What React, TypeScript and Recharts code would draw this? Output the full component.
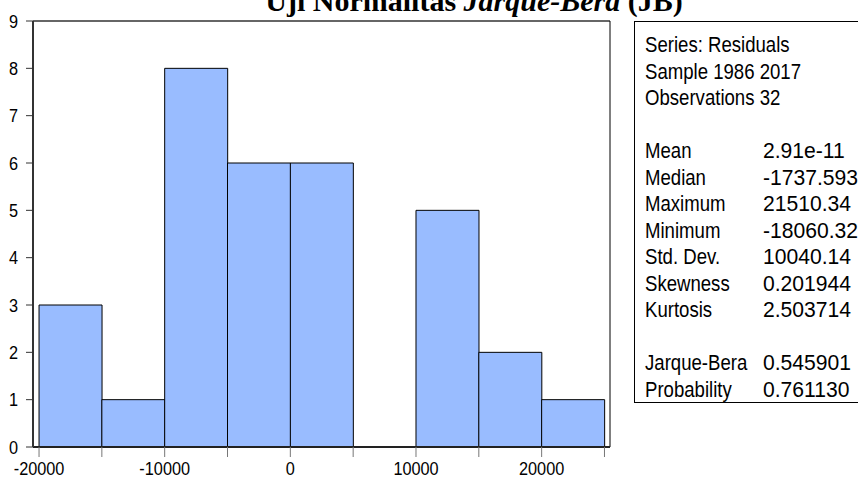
import { Bar, ComposedChart, ReferenceLine, XAxis, YAxis } from "recharts";

const BIN_CENTERS = [-17500, -12500, -7500, -2500, 2500, 7500, 12500, 17500, 22500];
const BIN_COUNTS = [3, 1, 8, 6, 6, 0, 5, 2, 1];
const X_TICKS = [-20000, -15000, -10000, -5000, 0, 5000, 10000, 15000, 20000, 25000];
const X_LABELED = [-20000, -10000, 0, 10000, 20000];
const Y_TICKS = [0, 1, 2, 3, 4, 5, 6, 7, 8, 9];
const X_DOMAIN: [number, number] = [-20480, 25440];
const Y_DOMAIN: [number, number] = [0, 9];

const HEADER_LINES = ["Series: Residuals", "Sample 1986 2017", "Observations 32"];
const STAT_LABELS = ["Mean", "Median", "Maximum", "Minimum", "Std. Dev.", "Skewness", "Kurtosis"];
const STAT_VALUES = ["2.91e-11", "-1737.593", "21510.34", "-18060.32", "10040.14", "0.201944", "2.503714"];
const TEST_LABELS = ["Jarque-Bera", "Probability"];
const TEST_VALUES = ["0.545901", "0.761130"];

const SANS = "'Liberation Sans', Arial, sans-serif";
const SERIF = "'Liberation Serif', 'Times New Roman', serif";
const BAR_FILL = "#99bcff";

const data = BIN_CENTERS.map((mid, i) => ({ mid, count: BIN_COUNTS[i] }));

function XTick(props: any) {
  const { x, y, payload } = props;
  if (!X_LABELED.includes(payload.value)) return null;
  return (
    <text
      transform={`translate(${x},${y + 16}) scale(0.88,1)`}
      textAnchor="middle"
      fontSize={18.5}
      fontFamily={SANS}
      fill="#000"
    >
      {payload.value}
    </text>
  );
}

function YTick(props: any) {
  const { x, y, payload } = props;
  return (
    <text
      transform={`translate(${x - 6},${y + 6.5}) scale(0.88,1)`}
      textAnchor="end"
      fontSize={18.5}
      fontFamily={SANS}
      fill="#000"
    >
      {payload.value}
    </text>
  );
}

// one line of the statistics box; k is the row number counted from the top
function StatLine({ k, label, value }: { k: number; label: string; value?: string }) {
  const base = 52 + 26.5 * k;
  return (
    <g>
      <text transform={`translate(645,${base}) scale(0.845,1)`} fontSize={22} fontFamily={SANS}>
        {label}
      </text>
      {value && (
        <text transform={`translate(763,${base}) scale(0.96,1)`} fontSize={22} fontFamily={SANS}>
          {value}
        </text>
      )}
    </g>
  );
}

export default function App() {
  return (
    <div
      style={{
        position: "absolute",
        left: 0,
        top: 0,
        width: 858,
        height: 477,
        overflow: "hidden",
        background: "#fff",
      }}
    >
      <ComposedChart
        width={858}
        height={477}
        data={data}
        margin={{ top: 21, right: 248, bottom: 0, left: 0 }}
        barCategoryGap={0}
        barGap={0}
      >
        <XAxis
          xAxisId="x"
          dataKey="mid"
          type="number"
          domain={X_DOMAIN}
          ticks={X_TICKS}
          interval={0}
          allowDataOverflow
          height={30}
          tickSize={10}
          tickLine={{ stroke: "#777" }}
          axisLine={{ stroke: "#222", strokeWidth: 2 }}
          tick={<XTick />}
        />
        <YAxis
          yAxisId="y"
          type="number"
          domain={Y_DOMAIN}
          ticks={Y_TICKS}
          interval={0}
          allowDataOverflow
          width={33}
          tickSize={7}
          tickLine={{ stroke: "#333" }}
          axisLine={{ stroke: "#333", strokeWidth: 2 }}
          tick={<YTick />}
        />
        <Bar
          xAxisId="x"
          yAxisId="y"
          dataKey="count"
          fill={BAR_FILL}
          stroke="#000"
          strokeWidth={1}
          isAnimationActive={false}
        />
        <ReferenceLine xAxisId="x" yAxisId="y" y={Y_DOMAIN[1]} stroke="#333" strokeWidth={1.5} />
        <ReferenceLine xAxisId="x" yAxisId="y" x={X_DOMAIN[1]} stroke="#000" />
      </ComposedChart>

      <svg
        width={858}
        height={477}
        style={{ position: "absolute", left: 0, top: 0, pointerEvents: "none" }}
      >
        <text
          x={474}
          y={11}
          textAnchor="middle"
          fontSize={30}
          fontWeight="bold"
          fontFamily={SERIF}
          style={{ whiteSpace: "pre" }}
        >
          <tspan>Uji Normalitas </tspan>
          <tspan fontStyle="italic">Jarque-Bera</tspan>
          <tspan> (JB)</tspan>
        </text>

        <rect x={634.5} y={21.5} width={300} height={381} fill="none" stroke="#000" />
        {HEADER_LINES.map((line, i) => (
          <StatLine key={line} k={i} label={line} />
        ))}
        {STAT_LABELS.map((label, i) => (
          <StatLine key={label} k={4 + i} label={label} value={STAT_VALUES[i]} />
        ))}
        {TEST_LABELS.map((label, i) => (
          <StatLine key={label} k={12 + i} label={label} value={TEST_VALUES[i]} />
        ))}
      </svg>
    </div>
  );
}
